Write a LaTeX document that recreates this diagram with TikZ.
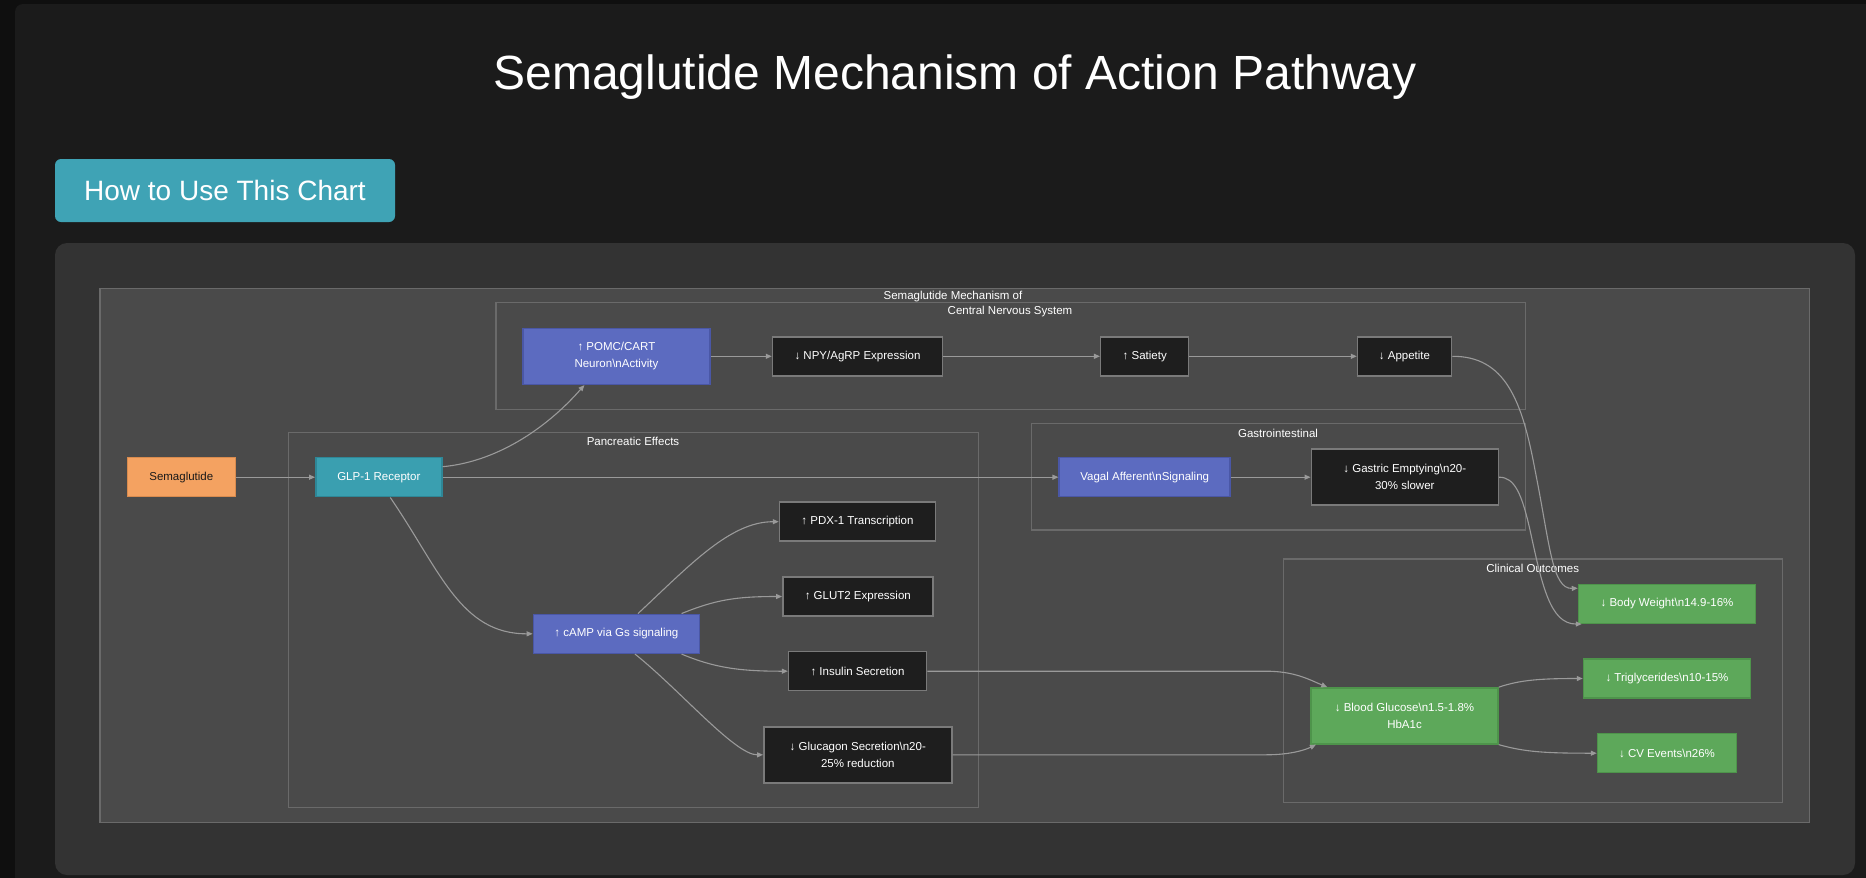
\documentclass[tikz,border=0pt]{standalone}
\usepackage{fontspec}
\setmainfont{Liberation Sans}
\usetikzlibrary{arrows.meta,positioning,calc}
\definecolor{pagebg}{HTML}{0F0F0F}
\definecolor{shellbg}{HTML}{1B1B1B}
\definecolor{panelbg}{HTML}{333333}
\definecolor{clusterbg}{HTML}{4A4A4A}
\definecolor{clusterline}{HTML}{6A6A6A}
\definecolor{edgegray}{HTML}{9A9A9A}
\definecolor{buttonteal}{HTML}{3FA3B5}
\definecolor{doseorange}{HTML}{F4A261}
\definecolor{doseorangeedge}{HTML}{D98B4E}
\definecolor{receptorteal}{HTML}{3A9FB0}
\definecolor{receptortealedge}{HTML}{2E8797}
\definecolor{signalpurple}{HTML}{5C6BC0}
\definecolor{signalpurpleedge}{HTML}{4A57A6}
\definecolor{outcomegreen}{HTML}{5DA85A}
\definecolor{outcomegreenedge}{HTML}{4E944B}
\definecolor{nodedark}{HTML}{1E1E1E}
\definecolor{nodedarkedge}{HTML}{7A7A7A}
\definecolor{nodeink}{HTML}{1A1A1A}
\newcommand{\nodefont}{\fontsize{11.5}{16.7}\selectfont}
\tikzset{
 box/.style={draw,minimum height=39pt,inner sep=0pt,align=center,text=white,font=\nodefont,line width=1.5pt},
 darkbox/.style={box,fill=nodedark,draw=nodedarkedge},
 purplebox/.style={box,fill=signalpurple,draw=signalpurpleedge},
 greenbox/.style={box,fill=outcomegreen,draw=outcomegreenedge},
 cluster/.style={draw=clusterline,fill=clusterbg,line width=1.2pt},
 clustertitle/.style={text=white,font=\nodefont,inner sep=0pt},
 link/.style={draw=edgegray,line width=1.1pt,-{Triangle[length=6pt,width=5pt]}},
}

\begin{document}
\begin{tikzpicture}[x=1pt,y=-1pt]
\useasboundingbox (0,0) rectangle (1866,878);
% page and panels
\fill[pagebg] (0,0) rectangle (1866,878);
\fill[shellbg,rounded corners=8pt] (15,4) rectangle (1900,900);
\node[font=\fontsize{48}{56}\selectfont,text=white] (title) at (955,77) {Semaglutide Mechanism of Action Pathway};
\node[fill=buttonteal,rounded corners=6pt,minimum width=340pt,minimum height=63pt,inner sep=0pt,text=white,font=\fontsize{28}{32}\selectfont] (help) at (225,190.5) {How to Use This Chart};
\fill[panelbg,rounded corners=12pt] (55,243) rectangle (1855,875);

% clusters
\draw[cluster] (100,288.3) rectangle (1809.4,822.3);
\node[clustertitle] (maintitle) at (953,296.7) {Semaglutide Mechanism of};
\draw[cluster] (495.9,302.7) rectangle (1525.5,409.3);
\node[clustertitle] (cnstitle) at (1010,312) {Central Nervous System};
\draw[cluster] (288.6,432.3) rectangle (978.6,807.7);
\node[clustertitle] (panctitle) at (633,441.3) {Pancreatic Effects};
\draw[cluster] (1031.6,423.7) rectangle (1525.5,530);
\node[clustertitle] (gititle) at (1278,433) {Gastrointestinal};
\draw[cluster] (1283.6,559) rectangle (1782.5,802.3);
\node[clustertitle] (clintitle) at (1532.7,568) {Clinical Outcomes};

% nodes
\node[box,fill=doseorange,draw=doseorangeedge,text=nodeink,minimum width=108pt] (sema) at (181.3,477.2) {Semaglutide};
\node[box,fill=receptorteal,draw=receptortealedge,minimum width=126pt] (glp) at (378.8,477.2) {GLP-1 Receptor};
\node[purplebox,minimum width=187pt,minimum height=56pt] (pomc) at (616.4,356.3) {↑ POMC/CART\\Neuron\textbackslash nActivity};
\node[darkbox,minimum width=170pt] (npy) at (857.5,356.3) {↓ NPY/AgRP Expression};
\node[darkbox,minimum width=88pt] (sat) at (1144.7,356.3) {↑ Satiety};
\node[darkbox,minimum width=94pt] (app) at (1404.5,356.3) {↓ Appetite};
\node[purplebox,minimum width=171pt] (vagal) at (1144.7,477.2) {Vagal Afferent\textbackslash nSignaling};
\node[darkbox,minimum width=187pt,minimum height=56pt] (gastric) at (1404.8,477.2) {↓ Gastric Emptying\textbackslash n20-\\30\% slower};
\node[darkbox,minimum width=156pt] (pdx) at (857.5,521.7) {↑ PDX-1 Transcription};
\node[darkbox,minimum width=150pt] (glut) at (857.8,596.5) {↑ GLUT2 Expression};
\node[purplebox,minimum width=166pt] (camp) at (616.4,633.8) {↑ cAMP via Gs signaling};
\node[darkbox,minimum width=138pt] (ins) at (857.5,671.2) {↑ Insulin Secretion};
\node[darkbox,minimum width=188pt,minimum height=56pt] (gluc) at (857.8,754.8) {↓ Glucagon Secretion\textbackslash n20-\\25\% reduction};
\node[greenbox,minimum width=177pt] (bw) at (1667,603.8) {↓ Body Weight\textbackslash n14.9-16\%};
\node[greenbox,minimum width=167pt] (trig) at (1667,678.5) {↓ Triglycerides\textbackslash n10-15\%};
\node[greenbox,minimum width=187pt,minimum height=56pt] (bg) at (1404.5,715.9) {↓ Blood Glucose\textbackslash n1.5-1.8\%\\HbA1c};
\node[greenbox,minimum width=139pt] (cv) at (1667,753.2) {↓ CV Events\textbackslash n26\%};

% connectors
\draw[link] (sema) -- (glp);
\draw[link] (glp) -- (vagal);
\foreach \a/\b in {pomc/npy,npy/sat,sat/app,vagal/gastric}
 \draw[link] (\a) -- (\b);
\draw[link] ([yshift=10.5pt]glp.east) .. controls (495,462) and (545,430) .. ([xshift=-32pt]pomc.south);
\draw[link] ([xshift=11.4pt]glp.south) .. controls (440,570) and (460,634) .. (camp.west);
\draw[link] ([xshift=21.6pt]camp.north) .. controls (690,565) and (730,521.7) .. (pdx.west);
\draw[link] ([xshift=-18.6pt]camp.north east) .. controls (715,600) and (735,596.5) .. (glut.west);
\draw[link] ([xshift=-18.6pt]camp.south east) .. controls (715,668) and (740,671.2) .. (ins.west);
\draw[link] ([xshift=18.6pt]camp.south) .. controls (680,690) and (735,755) .. (gluc.west);
\draw[link] (app.east) .. controls (1505,356) and (1522,400) .. (1535,470)
 .. controls (1550,545) and (1552,589) .. ([yshift=-4.7pt]bw.north west);
\draw[link] (gastric.east) .. controls (1515,477) and (1522,495) .. (1530,530)
 .. controls (1542,585) and (1550,624) .. ([xshift=4pt]bw.south west);
\draw[link] (ins.east) -- (1266,671.2) .. controls (1295,671.2) and (1310,680) .. ([xshift=17pt]bg.north west);
\draw[link] (gluc.east) -- (1266,754.8) .. controls (1290,754.8) and (1305,750) .. ([xshift=5.7pt]bg.south west);
\draw[link] (bg.north east) .. controls (1520,680) and (1540,678.5) .. (trig.west);
\draw[link] (bg.south east) .. controls (1525,752) and (1545,753.2) .. (cv.west);
\end{tikzpicture}
\end{document}
